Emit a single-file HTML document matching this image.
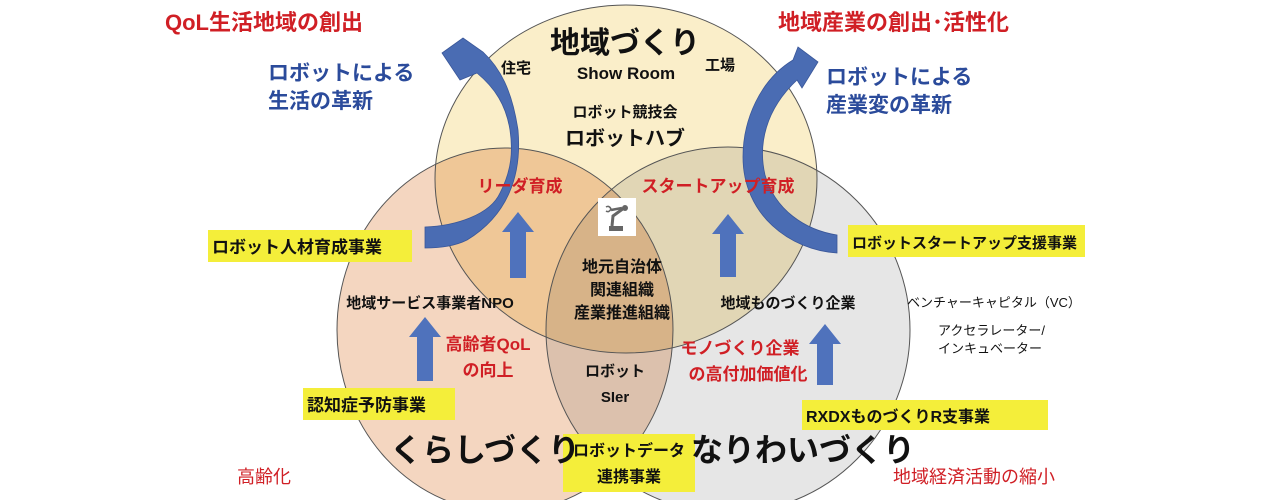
<!DOCTYPE html>
<html><head><meta charset="utf-8"><style>
html,body{margin:0;padding:0;background:#fff;}
svg{display:block;font-family:"Liberation Sans","Noto Sans CJK JP",sans-serif;}
</style></head><body>
<svg width="1280" height="500" viewBox="0 0 1280 500" xmlns="http://www.w3.org/2000/svg">
<g style="isolation:isolate">
<ellipse cx="626" cy="179" rx="191" ry="174" fill="#faeec9" style="mix-blend-mode:multiply"/>
<ellipse cx="505" cy="330" rx="168" ry="182" fill="#f4d6c0" style="mix-blend-mode:multiply"/>
<ellipse cx="728" cy="330" rx="182" ry="183" fill="#e6e6e6" style="mix-blend-mode:multiply"/>
</g>
<g fill="none" stroke="#555" stroke-width="1">
<ellipse cx="626" cy="179" rx="191" ry="174"/>
<ellipse cx="505" cy="330" rx="168" ry="182"/>
<ellipse cx="728" cy="330" rx="182" ry="183"/>
</g>
<!-- curved arrows -->
<path fill="#4a6cb3" stroke="#3a5799" stroke-width="0.8" d="M425,227 C455,226 490,215 500,193 C512,170 513,150 510,130 C506,105 495,88 477,73 L460,80 L442,53 L463,38 L483,52 C500,68 512,90 518,130 C522,175 508,215 467,240 C455,246 440,248 425,248 Z"/>
<path fill="#4a6cb3" stroke="#3a5799" stroke-width="0.8" d="M837,235 C805,230 775,210 765,175 C758,145 765,110 797,80 L802,88 L818,62 L798,47 L793,60 C760,80 743,120 743,157 C743,215 790,250 837,253 Z"/>
<!-- up arrows -->
<g fill="#4f72bc">
<path d="M510,278 V232 H502 L518,212 L534,232 H526 V278 Z"/>
<path d="M720,277 V234 H712 L728,214 L744,234 H736 V277 Z"/>
<path d="M417,381 V337 H409 L425,317 L441,337 H433 V381 Z"/>
<path d="M817,385 V344 H809 L825,324 L841,344 H833 V385 Z"/>
</g>
<!-- robot icon -->
<rect x="598" y="198" width="38" height="38" fill="#fff"/>
<g fill="#666" stroke="#666">
<rect x="609" y="226" width="14" height="5" stroke="none"/>
<path d="M612,226 L613,216 L624,208" stroke-width="3" fill="none"/>
<circle cx="625" cy="208" r="3" stroke="none"/>
<path d="M622,208 L611,210" stroke-width="2.5" fill="none"/>
<path d="M606,207 q3,-2 5,2 q-2,4 -5,2" stroke-width="1.5" fill="none"/>
</g>
<!-- yellow boxes -->
<g fill="#f4ee3a">
<rect x="208" y="230" width="204" height="32"/>
<rect x="848" y="225" width="237" height="32"/>
<rect x="303" y="388" width="152" height="32"/>
<rect x="802" y="400" width="246" height="30"/>
<rect x="563" y="434" width="132" height="58"/>
</g>
<!-- texts -->
<g font-weight="bold" fill="#d01f25" font-size="22">
<text x="165" y="30">QoL生活地域の創出</text>
<text x="778" y="30">地域産業の創出･活性化</text>
</g>
<g font-weight="bold" fill="#2b4b9b" font-size="21">
<text x="268" y="80">ロボットによる</text>
<text x="268" y="108">生活の革新</text>
<text x="826" y="84">ロボットによる</text>
<text x="826" y="112">産業変の革新</text>
</g>
<g fill="#111" text-anchor="middle">
<text x="625" y="53" font-size="30" font-weight="bold">地域づくり</text>
<text x="516" y="73" font-size="15" font-weight="bold">住宅</text>
<text x="626" y="79" font-size="17" font-weight="bold">Show Room</text>
<text x="720" y="70" font-size="15" font-weight="bold">工場</text>
<text x="625" y="117" font-size="15" font-weight="bold">ロボット競技会</text>
<text x="625" y="145" font-size="20" font-weight="bold">ロボットハブ</text>
<text x="622" y="272" font-size="16" font-weight="bold">地元自治体</text>
<text x="622" y="295" font-size="16" font-weight="bold">関連組織</text>
<text x="622" y="318" font-size="16" font-weight="bold">産業推進組織</text>
<text x="430" y="308" font-size="15" font-weight="bold">地域サービス事業者NPO</text>
<text x="788" y="308" font-size="15" font-weight="bold">地域ものづくり企業</text>
<text x="615" y="376" font-size="15" font-weight="bold">ロボット</text>
<text x="615" y="402" font-size="15" font-weight="bold">SIer</text>
<text x="485" y="461" font-size="32" font-weight="bold">くらしづくり</text>
<text x="803" y="461" font-size="32" font-weight="bold">なりわいづくり</text>
</g>
<g fill="#d01f25" font-weight="bold" font-size="17" text-anchor="middle">
<text x="520" y="192">リーダ育成</text>
<text x="718" y="192">スタートアップ育成</text>
<text x="488" y="350">高齢者QoL</text>
<text x="488" y="376">の向上</text>
<text x="740" y="354">モノづくり企業</text>
<text x="748" y="380">の高付加価値化</text>
</g>
<g fill="#111" font-weight="bold">
<text x="212" y="253" font-size="17">ロボット人材育成事業</text>
<text x="852" y="248" font-size="15">ロボットスタートアップ支援事業</text>
<text x="307" y="411" font-size="17">認知症予防事業</text>
<text x="806" y="422" font-size="16">RXDXものづくりR支事業</text>
<text x="629" y="456" font-size="16" text-anchor="middle">ロボットデータ</text>
<text x="629" y="482" font-size="16" text-anchor="middle">連携事業</text>
</g>
<g fill="#111" font-size="13">
<text x="907" y="307">ベンチャーキャピタル（VC）</text>
<text x="938" y="335">アクセラレーター/</text>
<text x="938" y="353">インキュベーター</text>
</g>
<g fill="#d01f25" font-size="18">
<text x="237" y="483">高齢化</text>
<text x="893" y="483">地域経済活動の縮小</text>
</g>
</svg>
</body></html>
